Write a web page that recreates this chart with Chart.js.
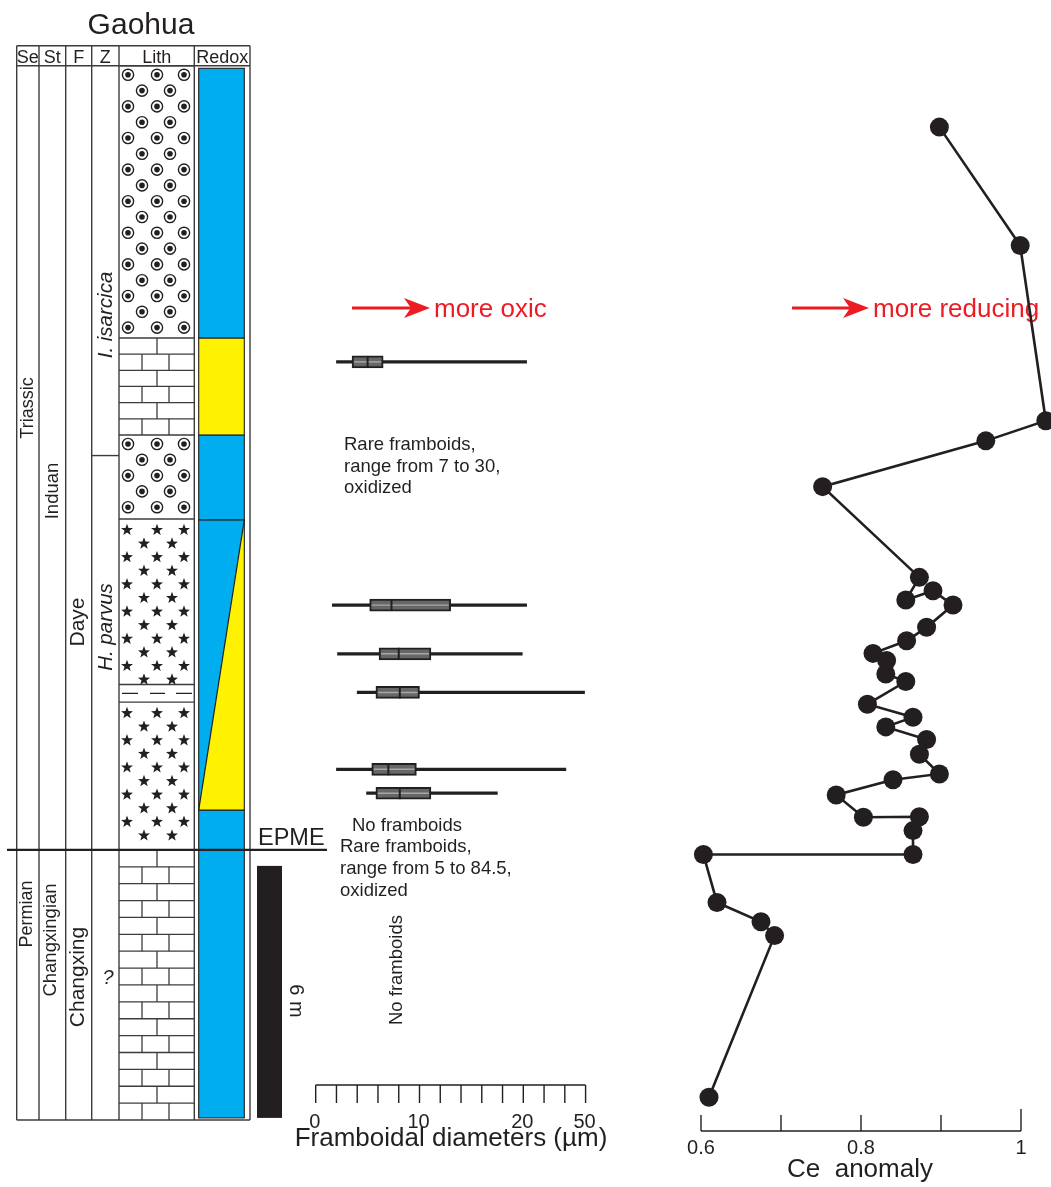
<!DOCTYPE html>
<html>
<head>
<meta charset="utf-8">
<title>Gaohua section</title>
<script src="https://cdn.jsdelivr.net/npm/chart.js@4.4.1/dist/chart.umd.min.js"></script>
<style>
  html, body { margin: 0; padding: 0; background: #fff; overflow: hidden; }
  canvas { display: block; }
</style>
</head>
<body>
<canvas id="section" width="1051" height="1187"></canvas>
<script>
// ---- Ce anomaly profile (height above section base, m) ----
const ceHeight = [23.64, 20.82, 16.65, 16.17, 15.08, 12.92, 12.38, 12.60, 12.26, 11.73, 11.41, 11.11,
                  10.94, 10.62, 10.44, 9.90, 9.59, 9.36, 9.06, 8.71, 8.24, 8.10, 7.74, 7.21, 7.22,
                  6.89, 6.32, 6.32, 5.18, 4.72, 4.39, 0.54];
const ceValue = [0.898, 0.999, 1.031, 0.956, 0.752, 0.873, 0.856, 0.890, 0.915, 0.882, 0.857, 0.815,
                 0.832, 0.831, 0.856, 0.808, 0.865, 0.831, 0.882, 0.873, 0.898, 0.840, 0.769, 0.803, 0.873,
                 0.865, 0.865, 0.603, 0.620, 0.675, 0.692, 0.610];
const ceTicks = [0.6, 0.7, 0.8, 0.9, 1.0];
const ceTickLabels = ['0.6', '', '0.8', '', '1'];

// ---- Framboid diameter distributions (µm) ----
const frambHeight = [18.05, 12.26, 11.10, 10.18, 8.35, 7.78];
const frambMin    = [2.0, 1.6, 2.1, 4.0, 2.0, 4.9];
const frambQ1     = [3.5, 5.2, 6.1, 5.8, 5.4, 5.8];
const frambMedian = [5.0, 7.3, 8.0, 8.1, 7.0, 8.1];
const frambQ3     = [6.5, 13.0, 11.1, 10.0, 9.7, 11.1];
const frambMax    = [21.6, 21.6, 19.9, 49.5, 40.5, 17.5];
const frambTicks  = [0, 2, 4, 6, 8, 10, 12, 14, 16, 18, 20, 30, 40, 50];
const frambTickLabels = ['0', '', '', '', '', '10', '', '', '', '', '20', '', '', '50'];

// ---- Lithology (m) ----
const lithBase = [0, 6.43, 9.95, 10.37, 14.31, 16.31, 18.62];
const lithTop  = [6.43, 9.95, 10.37, 14.31, 16.31, 18.62, 25.10];
const lithType = ['limestone', 'stars', 'mudstone', 'stars', 'oolite', 'limestone', 'oolite'];

// ---- Redox interpretation (m) ----
const redoxBase  = [0.05, 7.38, 14.29, 16.31, 18.62];
const redoxTop   = [7.38, 14.29, 16.31, 18.62, 25.04];
const redoxState = ['oxic', 'transition', 'oxic', 'dysoxic', 'oxic'];

// ---- Chronostratigraphy ----
const systemNames  = ['Permian', 'Triassic'];
const stageNames   = ['Changxingian', 'Induan'];
const formationNames = ['Changxing', 'Daye'];
const zoneNames    = ['?', 'H. parvus', 'I. isarcica'];
const zoneBounds   = [6.43, 15.82];     // zone boundaries (m)
const epmeHeight   = 6.43;             // extinction horizon (m)
const scaleBarMetres = 6;

// ---- page layout (pixels) ----
const FONT = '"Liberation Sans", Arial, Helvetica, sans-serif';
const INK = '#231f20';
const LINE = '#3c3c3c';
const L = {
  colEdges: [16.7, 39, 65.7, 91.7, 119, 194.3, 250],
  headerTop: 45.7,
  lithX: [119, 194.3],
  redoxX: [198.7, 244.3],
  barX: [257, 282],
  epmeX: [7, 327],
  frambAxisY: 1085,
  ceAxisY: 1131
};

// framboid axis: linear to 20 µm, compressed 20–50 µm
const frambUnit = v => (v <= 20 ? v : 20 + (v - 20) / 5);

function txt(ctx, s, x, y, o = {}) {
  ctx.save();
  ctx.font = (o.italic ? 'italic ' : '') + (o.size || 18) + 'px ' + FONT;
  ctx.fillStyle = o.color || INK;
  ctx.textAlign = o.align || 'left';
  ctx.textBaseline = o.baseline || 'alphabetic';
  ctx.translate(x, y);
  if (o.rot) ctx.rotate(o.rot);
  ctx.fillText(s, 0, 0);
  ctx.restore();
}

function seg(ctx, x0, y0, x1, y1, lw, col) {
  ctx.beginPath();
  ctx.moveTo(x0, y0);
  ctx.lineTo(x1, y1);
  ctx.lineWidth = lw;
  ctx.strokeStyle = col;
  ctx.stroke();
}

function ooid(ctx, x, y) {
  ctx.beginPath(); ctx.arc(x, y, 5.6, 0, Math.PI * 2);
  ctx.fillStyle = '#fff'; ctx.fill();
  ctx.lineWidth = 1.4; ctx.strokeStyle = INK; ctx.stroke();
  ctx.beginPath(); ctx.arc(x, y, 2.8, 0, Math.PI * 2);
  ctx.fillStyle = INK; ctx.fill();
}

function star(ctx, x, y) {
  const R = 6.3, r = 2.6;
  ctx.beginPath();
  for (let k = 0; k < 10; k++) {
    const a = -Math.PI / 2 + k * Math.PI / 5;
    const rad = k % 2 === 0 ? R : r;
    const px = x + rad * Math.cos(a), py = y + rad * Math.sin(a);
    if (k === 0) ctx.moveTo(px, py); else ctx.lineTo(px, py);
  }
  ctx.closePath();
  ctx.fillStyle = INK; ctx.fill();
}

function redArrow(ctx, x0, x1, y) {
  const red = '#ed1c24';
  seg(ctx, x0, y, x1 - 16, y, 3, red);
  ctx.beginPath();
  ctx.moveTo(x1, y);
  ctx.lineTo(x1 - 26, y - 10);
  ctx.lineTo(x1 - 19, y);
  ctx.lineTo(x1 - 26, y + 10);
  ctx.closePath();
  ctx.fillStyle = red; ctx.fill();
}

const sectionPlugin = {
  id: 'sectionColumn',
  beforeDatasetsDraw(chart) {
    const ctx = chart.ctx;
    const yS = chart.scales.y, xF = chart.scales.xF, xCe = chart.scales.xCe;
    const py = h => yS.getPixelForValue(h);
    const colTop = py(lithTop[lithTop.length - 1]);
    const colBase = py(0);
    const [lx0, lx1] = L.lithX;
    ctx.save();

    // title and header
    txt(ctx, 'Gaohua', 141, 33.5, { size: 30, align: 'center' });
    const heads = ['Se', 'St', 'F', 'Z', 'Lith', 'Redox'];
    heads.forEach((h, i) => {
      const cx = (L.colEdges[i] + L.colEdges[i + 1]) / 2;
      txt(ctx, h, cx, 63, { size: 18, align: 'center' });
    });

    // lithology fills
    lithType.forEach((t, i) => {
      const top = py(lithTop[i]), bot = py(lithBase[i]);
      ctx.save();
      ctx.beginPath(); ctx.rect(lx0, top, lx1 - lx0, bot - top); ctx.clip();
      if (t === 'limestone') {
        const rows = Math.max(1, Math.round((bot - top) / 16.6));
        const rh = (bot - top) / rows;
        for (let r = 0; r < rows; r++) {
          const yt = top + r * rh;
          if (r > 0) seg(ctx, lx0, yt, lx1, yt, 1.3, LINE);
          const divs = r % 2 === 0 ? [157] : [142, 169];
          divs.forEach(dx => seg(ctx, dx, yt, dx, yt + rh, 1.3, LINE));
        }
      } else if (t === 'oolite') {
        let r = 0;
        for (let yy = top + 9; yy < bot - 5; yy += 15.8, r++) {
          (r % 2 === 0 ? [128, 157, 184] : [142, 170]).forEach(x => ooid(ctx, x, yy));
        }
      } else if (t === 'stars') {
        let r = 0;
        for (let yy = top + 11; yy < bot - 4; yy += 13.6, r++) {
          (r % 2 === 0 ? [127, 157, 184] : [144, 172]).forEach(x => star(ctx, x, yy));
        }
      } else if (t === 'mudstone') {
        const ym = (top + bot) / 2;
        [[122, 138], [150, 165], [176, 192]].forEach(d => seg(ctx, d[0], ym, d[1], ym, 1.3, INK));
      }
      ctx.restore();
      seg(ctx, lx0, top, lx1, top, 1.4, LINE);
    });

    // redox column
    const [rx0, rx1] = L.redoxX;
    const blue = '#00aeef', yellow = '#fff200';
    redoxState.forEach((s, i) => {
      const top = py(redoxTop[i]), bot = py(redoxBase[i]);
      ctx.fillStyle = s === 'dysoxic' ? yellow : blue;
      ctx.fillRect(rx0, top, rx1 - rx0, bot - top);
      if (s === 'transition') {
        ctx.beginPath();
        ctx.moveTo(rx1, top); ctx.lineTo(rx1, bot); ctx.lineTo(rx0, bot); ctx.closePath();
        ctx.fillStyle = yellow; ctx.fill();
        seg(ctx, rx1, top, rx0, bot, 1.2, INK);
      }
      ctx.lineWidth = 1.1; ctx.strokeStyle = INK;
      ctx.strokeRect(rx0, top, rx1 - rx0, bot - top);
    });

    // column frame
    L.colEdges.forEach(x => seg(ctx, x, L.headerTop, x, colBase, 1.4, LINE));
    seg(ctx, L.colEdges[0], L.headerTop, L.colEdges[6], L.headerTop, 1.4, LINE);
    seg(ctx, L.colEdges[0], colTop, L.colEdges[6], colTop, 1.4, LINE);
    seg(ctx, L.colEdges[0], colBase, L.colEdges[6], colBase, 1.4, LINE);
    const zb = py(zoneBounds[1]);
    seg(ctx, L.colEdges[3], zb, L.colEdges[4], zb, 1.4, LINE);

    // extinction horizon
    const ye = py(epmeHeight);
    seg(ctx, L.epmeX[0], ye, L.epmeX[1], ye, 2.2, INK);
    txt(ctx, 'EPME', 258, 845, { size: 23.5 });

    // rotated unit labels
    const up = -Math.PI / 2;
    txt(ctx, systemNames[1], 28, 408, { size: 18, rot: up, align: 'center', baseline: 'middle' });
    txt(ctx, systemNames[0], 27, 914, { size: 18, rot: up, align: 'center', baseline: 'middle' });
    txt(ctx, stageNames[1], 53, 491, { size: 18.5, rot: up, align: 'center', baseline: 'middle' });
    txt(ctx, stageNames[0], 51, 940, { size: 18.5, rot: up, align: 'center', baseline: 'middle' });
    txt(ctx, formationNames[1], 78, 622, { size: 21, rot: up, align: 'center', baseline: 'middle' });
    txt(ctx, formationNames[0], 78, 977, { size: 21, rot: up, align: 'center', baseline: 'middle' });
    txt(ctx, zoneNames[2], 106, 315, { size: 20.5, rot: up, align: 'center', baseline: 'middle', italic: true });
    txt(ctx, zoneNames[1], 106, 627, { size: 20.5, rot: up, align: 'center', baseline: 'middle', italic: true });
    txt(ctx, zoneNames[0], 108, 978, { size: 20, align: 'center', baseline: 'middle', italic: true });

    // thickness scale bar
    ctx.fillStyle = INK;
    const bTop = py(0.05 + scaleBarMetres), bBot = py(0.05);
    ctx.fillRect(L.barX[0], bTop, L.barX[1] - L.barX[0], bBot - bTop);
    txt(ctx, scaleBarMetres + ' m', 296, 1001, { size: 20, rot: Math.PI / 2, align: 'center', baseline: 'middle' });

    // direction arrows
    redArrow(ctx, 352, 430, 308);
    txt(ctx, 'more oxic', 434, 317, { size: 26, color: '#ed1c24' });
    redArrow(ctx, 792, 869, 308);
    txt(ctx, 'more reducing', 873, 317, { size: 26, color: '#ed1c24' });

    // framboid notes
    const note = 18.5;
    txt(ctx, 'Rare framboids,', 344, 450, { size: note });
    txt(ctx, 'range from 7 to 30,', 344, 471.5, { size: note });
    txt(ctx, 'oxidized', 344, 493, { size: note });
    txt(ctx, 'No framboids', 352, 831, { size: note });
    txt(ctx, 'Rare framboids,', 340, 852, { size: note });
    txt(ctx, 'range from 5 to 84.5,', 340, 874, { size: note });
    txt(ctx, 'oxidized', 340, 896, { size: note });
    txt(ctx, 'No framboids', 397, 970, { size: note, rot: up, align: 'center', baseline: 'middle' });

    // framboid diameter axis
    const fa = L.frambAxisY;
    seg(ctx, xF.getPixelForValue(frambUnit(0)), fa, xF.getPixelForValue(frambUnit(50)), fa, 1.4, INK);
    frambTicks.forEach((v, i) => {
      const x = xF.getPixelForValue(frambUnit(v));
      seg(ctx, x, fa, x, fa + 18, 1.4, INK);
      if (frambTickLabels[i]) txt(ctx, frambTickLabels[i], x - 1, 1128, { size: 20, align: 'center' });
    });
    txt(ctx, 'Framboidal diameters (µm)', 451, 1146, { size: 26, align: 'center' });

    // Ce anomaly axis
    const ca = L.ceAxisY;
    seg(ctx, xCe.getPixelForValue(ceTicks[0]), ca, xCe.getPixelForValue(ceTicks[ceTicks.length - 1]), ca, 1.4, INK);
    ceTicks.forEach((v, i) => {
      const x = xCe.getPixelForValue(v);
      const len = i === ceTicks.length - 1 ? 22 : 16;
      seg(ctx, x, ca, x, ca - len, 1.4, INK);
      if (ceTickLabels[i]) txt(ctx, ceTickLabels[i], x, 1154, { size: 20, align: 'center' });
    });
    txt(ctx, 'Ce  anomaly', 860, 1177, { size: 26, align: 'center' });

    ctx.restore();
  },
  afterDatasetsDraw(chart) {
    // interquartile boxes: centre stripe and median mark
    const ctx = chart.ctx;
    const xF = chart.scales.xF;
    const meta = chart.getDatasetMeta(0);
    ctx.save();
    meta.data.forEach((bar, i) => {
      const p = bar.getProps(['x', 'y', 'base', 'height'], true);
      const x0 = Math.min(p.x, p.base), x1 = Math.max(p.x, p.base);
      seg(ctx, x0 + 2, p.y, x1 - 2, p.y, 1.4, '#a8a8a8');
      const xm = xF.getPixelForValue(frambUnit(frambMedian[i]));
      seg(ctx, xm, p.y - p.height / 2, xm, p.y + p.height / 2, 2, INK);
    });
    ctx.restore();
  }
};

// scale ranges chosen so that the full canvas is the plotting area
const PX_PER_M = 42, BASE_PX = 1120, H = 1187, W = 1051;
const FR_X0 = 315.7, FR_PX = 10.38;
const CE_X0 = 701, CE_PX = 800;

new Chart(document.getElementById('section'), {
  type: 'bar',
  data: {
    datasets: [
      {
        type: 'bar', label: 'Interquartile range', indexAxis: 'y',
        xAxisID: 'xF', yAxisID: 'y', grouped: false,
        categoryPercentage: 1, barPercentage: 1, maxBarThickness: 12,
        data: frambHeight.map((h, i) => ({ x: [frambUnit(frambQ1[i]), frambUnit(frambQ3[i])], y: h })),
        backgroundColor: '#666769', borderColor: INK, borderWidth: 2, borderSkipped: false, order: 0
      },
      {
        type: 'bar', label: 'Range', indexAxis: 'y',
        xAxisID: 'xF', yAxisID: 'y', grouped: false,
        categoryPercentage: 1, barPercentage: 1, maxBarThickness: 2.6,
        data: frambHeight.map((h, i) => ({ x: [frambUnit(frambMin[i]), frambUnit(frambMax[i])], y: h })),
        backgroundColor: INK, borderWidth: 0, order: 1
      },
      {
        type: 'line', label: 'Ce anomaly',
        xAxisID: 'xCe', yAxisID: 'y',
        data: ceValue.map((v, i) => ({ x: v, y: ceHeight[i] })),
        borderColor: INK, borderWidth: 2.6, tension: 0, fill: false,
        pointRadius: 9.5, pointHoverRadius: 9.5, pointBackgroundColor: INK, pointBorderWidth: 0,
        clip: false, order: 2
      }
    ]
  },
  options: {
    responsive: false,
    maintainAspectRatio: false,
    devicePixelRatio: 1,
    animation: false,
    events: [],
    layout: { padding: 0, autoPadding: false },
    plugins: { legend: { display: false }, tooltip: { enabled: false }, title: { display: false } },
    scales: {
      y: { type: 'linear', axis: 'y', display: false, offset: false, bounds: 'data',
           min: (BASE_PX - H) / PX_PER_M, max: BASE_PX / PX_PER_M },
      xF: { type: 'linear', axis: 'x', display: false, offset: false, bounds: 'data',
            min: -FR_X0 / FR_PX, max: (W - FR_X0) / FR_PX },
      xCe: { type: 'linear', axis: 'x', display: false, offset: false, bounds: 'data',
             min: 0.6 - CE_X0 / CE_PX, max: 0.6 + (W - CE_X0) / CE_PX }
    }
  },
  plugins: [sectionPlugin]
});
</script>
</body>
</html>
